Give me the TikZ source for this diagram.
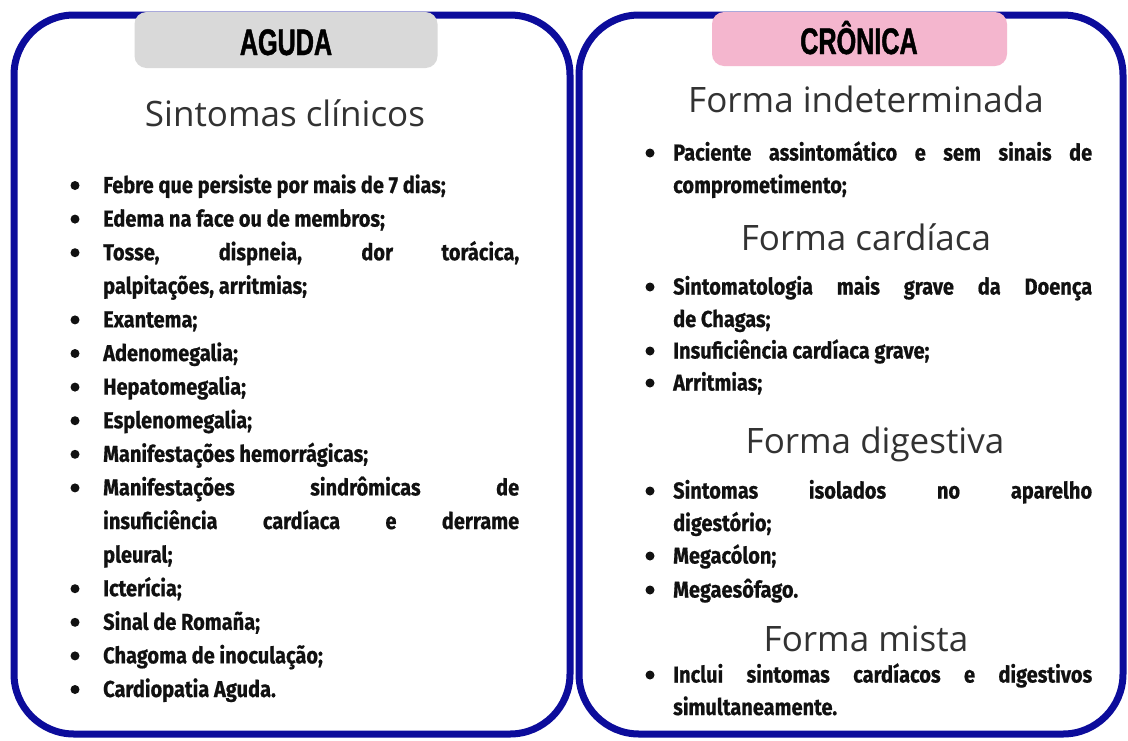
\documentclass[tikz,border=0pt]{standalone}
\usepackage{fontspec}
\newfontfamily\headfont{Liberation Sans}[FakeStretch=0.68,FakeBold=1.2]
\newfontfamily\subfont{Open Sans}
\newfontfamily\bodyfont{Fira Sans}[FakeStretch=0.87,FakeBold=0.6]
\definecolor{navyb}{RGB}{12,12,155}
\definecolor{tabgray}{RGB}{217,217,217}
\definecolor{tabpink}{RGB}{244,182,206}
\definecolor{subgray}{RGB}{50,50,50}
\definecolor{txt}{RGB}{17,17,17}
\hyphenpenalty=10000
\exhyphenpenalty=10000
\begin{document}
\begin{tikzpicture}[x=1pt,y=-1pt,
  frame/.style={draw=navyb, line width=7pt, rounded corners=60pt, rectangle, inner sep=0pt},
  tab/.style={rounded corners=12pt, rectangle, inner sep=0pt},
  head/.style={font=\headfont\bfseries\fontsize{37}{37}\selectfont, text=black, anchor=base, inner sep=0pt},
  sub/.style={font=\subfont\fontsize{35}{35}\selectfont, text=subgray, anchor=base, inner sep=0pt},
  itemL/.style={font=\bodyfont\bfseries\fontsize{23}{33.6}\selectfont, text=txt, text width=416pt, align=justify, anchor=base west, inner sep=0pt},
  itemR/.style={font=\bodyfont\bfseries\fontsize{23}{32.5}\selectfont, text=txt, text width=419pt, align=justify, anchor=base west, inner sep=0pt},
  dot/.style={circle, fill=txt, minimum size=9pt, inner sep=0pt}
]
\useasboundingbox (0,0) rectangle (1128,740);
\fill[white] (0,0) rectangle (1128,740);

% frames
\node[frame, minimum width=556pt, minimum height=719pt] (leftbox) at (292,374.5) {};
\node[frame, minimum width=544pt, minimum height=719pt] (rightbox) at (851,374.5) {};

% tabs
\node[tab, fill=tabgray, minimum width=303pt, minimum height=56pt] (tabL) at (286,40) {};
\node[tab, fill=tabpink, minimum width=295pt, minimum height=54pt] (tabR) at (859.5,39) {};
\node[head] (hL) at (286,55) {AGUDA};
\node[head] (hR) at (859,54) {CRÔNICA};

% subheadings
\node[sub] (sL) at (285,126) {Sintomas clínicos};
\node[sub] (s1) at (866,112) {Forma indeterminada};
\node[sub] (s2) at (866,250) {Forma cardíaca};
\node[sub] (s3) at (875,453) {Forma digestiva};
\node[sub] (s4) at (866,651) {Forma mista};

% left list
\foreach \i/\t/\n in {
  0/{Febre que persiste por mais de 7 dias;}/a1,
  1/{Edema na face ou de membros;}/a2,
  2/{Tosse, dispneia, dor torácica,\linebreak palpitações, arritmias;}/a3,
  4/{Exantema;}/a4,
  5/{Adenomegalia;}/a5,
  6/{Hepatomegalia;}/a6,
  7/{Esplenomegalia;}/a7,
  8/{Manifestações hemorrágicas;}/a8,
  9/{Manifestações sindrômicas de\linebreak insuficiência cardíaca e derrame\linebreak pleural;}/a9,
  12/{Icterícia;}/a10,
  13/{Sinal de Romaña;}/a11,
  14/{Chagoma de inoculação;}/a12,
  15/{Cardiopatia Aguda.}/a13}{
  \node[dot] (d\n) at (75,{185.5+33.6*\i}) {};
  \node[itemL] (\n) at (103,{193+33.6*\i}) {\t};
}

% right list
\foreach \y/\t/\n in {
  153/{Paciente assintomático e sem sinais de\linebreak comprometimento;}/b1,
  287/{Sintomatologia mais grave da Doença\linebreak de Chagas;}/b2,
  351/{Insuficiência cardíaca grave;}/b3,
  383/{Arritmias;}/b4,
  491/{Sintomas isolados no aparelho\linebreak digestório;}/b5,
  556/{Megacólon;}/b6,
  590/{Megaesôfago.}/b7,
  675/{Inclui sintomas cardíacos e digestivos\linebreak simultaneamente.}/b8}{
  \node[dot] (d\n) at (650,\y) {};
  \node[itemR] (\n) at (673,{\y+7.5}) {\t};
}
\end{tikzpicture}
\end{document}
